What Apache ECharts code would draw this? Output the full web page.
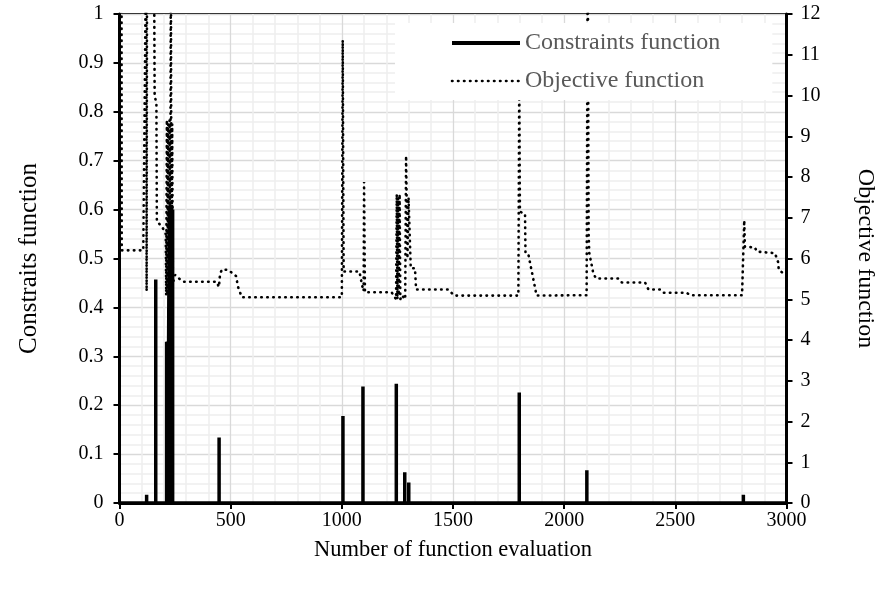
<!DOCTYPE html>
<html>
<head>
<meta charset="utf-8">
<script src="https://cdn.jsdelivr.net/npm/echarts@6/dist/echarts.min.js"></script>
<style>
html,body{margin:0;padding:0;background:#fff;}
#chart{width:880px;height:590px;}
</style>
</head>
<body>
<div id="chart"></div>
<script>
// ---- data ----
var xTicks = [0, 500, 1000, 1500, 2000, 2500, 3000];
var leftTicks = [0, 0.1, 0.2, 0.3, 0.4, 0.5, 0.6, 0.7, 0.8, 0.9, 1];
var rightTicks = [0,1,2,3,4,5,6,7,8,9,10,11,12];

// Constraints function: spikes (evaluation index, value)
var consEval = [122, 163, 212, 217, 224, 229, 234, 239, 448, 1005, 1095, 1245, 1283, 1301, 1798, 2102, 2806];
var consVal  = [0.017, 0.457, 0.33, 0.33, 0.6, 0.61, 0.61, 0.6, 0.134, 0.178, 0.238, 0.244, 0.063, 0.042, 0.226, 0.067, 0.017];

// Objective function (evaluation index, value); values above 12 run off the chart
var objEval = [9, 10, 107, 120, 122, 124, 155, 158, 166, 168, 190, 208,
  210, 213, 216, 219, 222, 225, 228, 231, 234, 237, 240, 250, 272, 287,
  437, 447, 452, 460, 489, 524, 534, 550, 1000, 1004, 1008, 1079, 1094, 1098,
  1100, 1104, 1119, 1224, 1244, 1247, 1250, 1253, 1256, 1260, 1263, 1270, 1285,
  1289, 1295, 1300, 1304, 1310, 1329, 1334, 1479, 1505, 1794, 1798, 1801, 1824,
  1826, 1839, 1861, 1876, 2101, 2106, 2110, 2113, 2131, 2143, 2244, 2260, 2364,
  2379, 2434, 2448, 2551, 2566, 2800, 2808, 2810, 2813, 2858, 2866, 2948, 2963,
  2965, 2985, 3000];
var objVal = [14, 6.2, 6.2, 14, 5.2, 14, 14, 10.0, 9.8, 6.9, 6.8, 6.6,
  5.1, 9.4, 5.1, 9.3, 5.1, 9.4, 5.2, 14, 5.1, 9.3, 5.4, 5.6, 5.49, 5.43,
  5.43, 5.3, 5.6, 5.73, 5.72, 5.57, 5.29, 5.05, 5.05, 11.36, 5.68, 5.68, 5.27, 5.2,
  7.88, 5.17, 5.17, 5.17, 5.0, 7.58, 5.0, 7.5, 5.1, 7.58, 5.0, 5.1, 5.0,
  8.52, 6.0, 7.5, 7.48, 5.76, 5.76, 5.24, 5.24, 5.09, 5.09, 10.5, 7.15, 7.09,
  6.13, 6.1, 5.5, 5.09, 5.1, 14, 6.62, 6.13, 5.64, 5.51, 5.51, 5.41, 5.41,
  5.24, 5.24, 5.16, 5.16, 5.1, 5.1, 5.13, 6.94, 6.29, 6.27, 6.17, 6.13, 5.9,
  5.72, 5.64, 5.6];

// ---- build series data ----
var consData = [[0, 0]];
for (var i = 0; i < consEval.length; i++) {
  consData.push([consEval[i], 0], [consEval[i], consVal[i]], [consEval[i], 0]);
}
consData.push([3000, 0]);
var objData = objEval.map(function (x, i) { return [x, objVal[i]]; });

var FONT = "'Liberation Serif', 'Times New Roman', serif";
var DOT = [0.5, 5.5];
var chart = echarts.init(document.getElementById('chart'), null, {renderer: 'canvas'});
chart.setOption({
  animation: false,
  backgroundColor: '#fff',
  grid: {left: 119.5, right: 93.5, top: 14, bottom: 87, show: true,
         outerBoundsMode: 'none', containLabel: false,
         borderColor: '#000', borderWidth: 2, backgroundColor: 'transparent'},
  legend: {
    orient: 'vertical', left: 395, top: 23,
    padding: [8, 52, 7, 55], itemGap: 14,
    itemWidth: 68, itemHeight: 14,
    backgroundColor: '#fff',
    itemStyle: {opacity: 0},
    textStyle: {fontFamily: FONT, fontSize: 24, color: '#595959'},
    data: [
      {name: 'Constraints function', lineStyle: {width: 4, color: '#000'}},
      {name: 'Objective function', lineStyle: {width: 2.6, color: '#000', type: DOT, cap: 'round'}}
    ]
  },
  xAxis: {
    type: 'value', min: 0, max: 3000, interval: 500,
    name: 'Number of function evaluation', nameLocation: 'middle', nameGap: 36,
    nameTextStyle: {fontFamily: FONT, fontSize: 22.5, color: '#000'},
    axisLine: {show: true, lineStyle: {color: '#000', width: 3}},
    axisTick: {show: true, inside: false, length: 6, lineStyle: {color: '#000', width: 2}},
    axisLabel: {fontFamily: FONT, fontSize: 20, color: '#000', margin: 8,
      formatter: function (v) { return xTicks.indexOf(v) >= 0 ? String(v) : ''; }},
    splitLine: {show: true, lineStyle: {color: '#d9d9d9', width: 1.3}},
    minorTick: {show: false, splitNumber: 5},
    minorSplitLine: {show: true, lineStyle: {color: '#eeeeee', width: 1.5}}
  },
  yAxis: [{
    type: 'value', min: 0, max: 1, interval: 0.1, position: 'left',
    name: 'Constraits function', nameLocation: 'middle', nameGap: 78, nameRotate: 90,
    nameTextStyle: {fontFamily: FONT, fontSize: 25, color: '#000'},
    axisLine: {show: true, lineStyle: {color: '#000', width: 3}},
    axisTick: {show: true, inside: false, length: 6, lineStyle: {color: '#000', width: 2}},
    axisLabel: {fontFamily: FONT, fontSize: 20, color: '#000', margin: 16,
      formatter: function (v) {
        var r = Math.round(v * 10) / 10;
        for (var k = 0; k < leftTicks.length; k++) if (leftTicks[k] === r) return String(leftTicks[k]);
        return '';
      }},
    splitLine: {show: true, lineStyle: {color: '#d9d9d9', width: 1.3}},
    minorTick: {show: false, splitNumber: 5},
    minorSplitLine: {show: true, lineStyle: {color: '#eeeeee', width: 1.5}}
  }, {
    type: 'value', min: 0, max: 12, interval: 1, position: 'right',
    name: 'Objective function', nameLocation: 'middle', nameGap: 67, nameRotate: -90,
    nameTextStyle: {fontFamily: FONT, fontSize: 24, color: '#000'},
    axisLine: {show: true, lineStyle: {color: '#000', width: 3}},
    axisTick: {show: true, inside: false, length: 6, lineStyle: {color: '#000', width: 2}},
    axisLabel: {fontFamily: FONT, fontSize: 20, color: '#000', margin: 14,
      formatter: function (v) { return rightTicks.indexOf(v) >= 0 ? String(v) : ''; }},
    splitLine: {show: false}
  }],
  series: [{
    name: 'Constraints function', type: 'line', yAxisIndex: 0,
    data: consData, symbol: 'none', clip: true,
    lineStyle: {color: '#000', width: 3.5, cap: 'butt'},
    itemStyle: {color: '#000'}, z: 3
  }, {
    name: 'Objective function', type: 'line', yAxisIndex: 1,
    data: objData, symbol: 'none', clip: true,
    lineStyle: {color: '#000', width: 2.6, type: DOT, cap: 'round'},
    itemStyle: {color: '#000'}, z: 2
  }]
});
</script>
</body>
</html>
